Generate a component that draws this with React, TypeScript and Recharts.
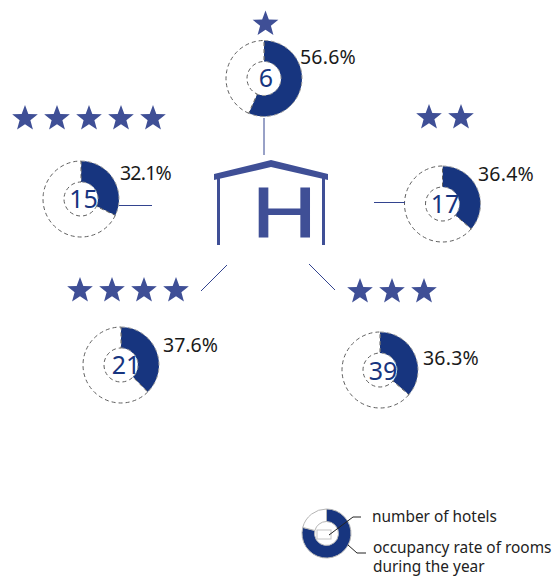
// Hotel occupancy by star rating: one donut per category around a hotel icon

import { PieChart, Pie, Cell } from 'recharts';

const FONT = '"Noto Sans", sans-serif';
const NAVY = '#17357f';
const ICON = '#3f4f96';

const ratings = [1, 5, 2, 4, 3];
const hotelCounts = [6, 15, 17, 21, 39];
const occupancy = [56.6, 32.1, 36.4, 37.6, 36.3];
const legendShare = [79, 21];

// layout only, in the same order as the arrays above
const donutCenters = [
  [264, 78.5],
  [81, 199],
  [442.5, 204],
  [121, 365],
  [380, 370],
];
const countAnchors = [
  [266, 87],
  [83.5, 208],
  [445, 213],
  [126, 374],
  [383, 380],
];
const percentAnchors = [
  [300, 64],
  [120, 180],
  [478, 181],
  [163, 352],
  [423, 365],
];
const percentTracking = [0.2, -0.8, 0.2, 0, 0.2];
const starRows = [
  [265.5, 24],
  [25, 118.5],
  [429, 117.5],
  [80, 290.5],
  [360, 291.5],
];
const leaders = [
  [264, 118, 264, 155],
  [119, 205.5, 152, 205.5],
  [374, 202.5, 405, 202.5],
  [227, 265, 201, 291],
  [309, 264, 335, 290],
];

function starPoints(cx: number, cy: number, r: number) {
  const pts: string[] = [];
  for (let i = 0; i < 10; i++) {
    const rad = i % 2 === 0 ? r : r * 0.42;
    const a = (Math.PI / 5) * i - Math.PI / 2;
    pts.push(`${cx + rad * Math.cos(a)},${cy + rad * Math.sin(a)}`);
  }
  return pts.join(' ');
}

function Stars({ index }: { index: number }) {
  const [x, y] = starRows[index];
  return (
    <>
      {Array.from({ length: ratings[index] }).map((_, i) => (
        <polygon key={i} points={starPoints(x + i * 32, y, 13.5)} fill={ICON} />
      ))}
    </>
  );
}

export default function App() {
  return (
    <div style={{ position: 'absolute', left: 0, top: 0, width: 553, height: 576 }}>
      <PieChart width={553} height={576} margin={{ top: 0, right: 0, bottom: 0, left: 0 }}>
        {occupancy.map((value, i) => (
          <Pie
            key={ratings[i]}
            data={[
              { name: 'occupied', value },
              { name: 'rest', value: 100 - value },
            ]}
            dataKey="value"
            cx={donutCenters[i][0]}
            cy={donutCenters[i][1]}
            innerRadius={17}
            outerRadius={38}
            startAngle={90}
            endAngle={-270}
            isAnimationActive={false}
          >
            <Cell fill={NAVY} stroke="#9a9a9a" strokeWidth={1} strokeDasharray="4 3" />
            <Cell fill="#ffffff" stroke="#5f5f5f" strokeWidth={1} strokeDasharray="4 3" />
          </Pie>
        ))}
        <Pie
          data={[
            { name: 'occupancy', value: legendShare[0] },
            { name: 'rest', value: legendShare[1] },
          ]}
          dataKey="value"
          cx={326.5}
          cy={533.5}
          innerRadius={12}
          outerRadius={24.5}
          startAngle={90}
          endAngle={-270}
          isAnimationActive={false}
        >
          <Cell fill={NAVY} stroke="#b5b5b5" strokeWidth={1} />
          <Cell fill="#ffffff" stroke="#b5b5b5" strokeWidth={1} />
        </Pie>
      </PieChart>

      <svg width={553} height={576} style={{ position: 'absolute', left: 0, top: 0 }}>
        {ratings.map((_, i) => (
          <Stars key={i} index={i} />
        ))}

        {leaders.map(([x1, y1, x2, y2], i) => (
          <line key={i} x1={x1} y1={y1} x2={x2} y2={y2} stroke="#33448f" strokeWidth={1} />
        ))}

        {hotelCounts.map((n, i) => (
          <text
            key={n}
            x={countAnchors[i][0]}
            y={countAnchors[i][1]}
            textAnchor="middle"
            fontFamily={FONT}
            fontSize={25}
            fill={NAVY}
          >
            {n}
          </text>
        ))}

        {occupancy.map((v, i) => (
          <text
            key={v}
            x={percentAnchors[i][0]}
            y={percentAnchors[i][1]}
            fontFamily={FONT}
            fontSize={19.5}
            fill="#1a1a1a"
            letterSpacing={percentTracking[i]}
          >
            {v.toFixed(1)}%
          </text>
        ))}

        {/* hotel icon */}
        <polygon points="214,174 271,160 328,174 328,180 271,167 214,180" fill={ICON} />
        <rect x={217} y={178} width={3} height={67} fill={ICON} />
        <rect x={322} y={178} width={3} height={67} fill={ICON} />
        <text
          x={252}
          y={237}
          textLength={64.7}
          lengthAdjust="spacingAndGlyphs"
          fontFamily="Liberation Sans"
          fontSize={70}
          fill={ICON}
          stroke={ICON}
          strokeWidth={1}
        >
          H
        </text>

        {/* legend */}
        <rect x={317} y={530} width={14} height={9} fill="#fff" stroke="#c4c4c4" />
        <polyline points="329,535 353,517 361,517" fill="none" stroke="#222" strokeWidth={1} />
        <polyline points="348,545 357,553 366,553" fill="none" stroke="#222" strokeWidth={1} />
        <g fontFamily={FONT} fontSize={15.4} fill="#222">
          <text x={372} y={521.5}>number of hotels</text>
          <text x={373} y={553}>occupancy rate of rooms</text>
          <text x={373} y={572}>during the year</text>
        </g>
      </svg>
    </div>
  );
}
